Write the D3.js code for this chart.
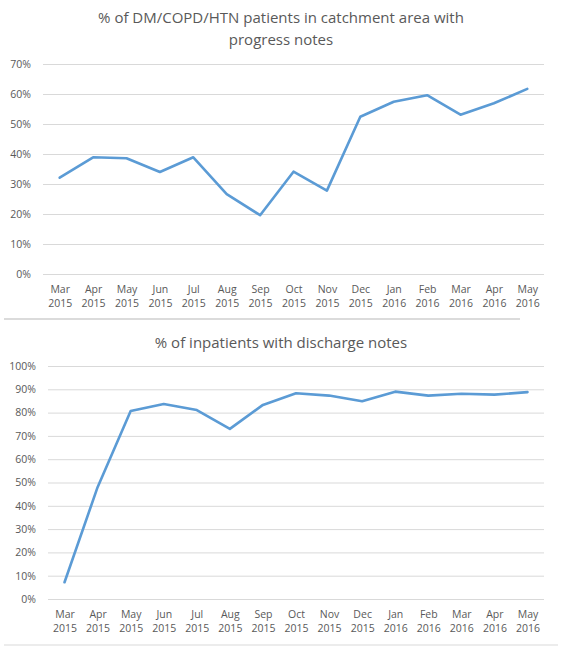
<!DOCTYPE html>
<html><head><meta charset="utf-8">
<script src="https://cdn.jsdelivr.net/npm/d3@7"></script>
<style>body{margin:0;background:#fff}svg{display:block}text{font-family:"Open Sans","Liberation Sans",sans-serif;fill:#595959}</style>
</head><body><svg id="c" width="562" height="650"></svg>
<script>
const months = ["Mar 2015","Apr 2015","May 2015","Jun 2015","Jul 2015","Aug 2015","Sep 2015","Oct 2015","Nov 2015","Dec 2015","Jan 2016","Feb 2016","Mar 2016","Apr 2016","May 2016"];
const progressNotes = [32.1,38.9,38.6,34.0,38.9,26.6,19.6,34.1,27.8,52.4,57.4,59.6,53.1,56.9,61.7];
const dischargeNotes = [7.2,48,80.7,83.7,81.1,73.0,83.3,88.3,87.3,84.9,89.0,87.3,88.1,87.7,88.8];
const ticksTop = [0,10,20,30,40,50,60,70];
const ticksBottom = [0,10,20,30,40,50,60,70,80,90,100];
const titleTop = ["% of DM/COPD/HTN patients in catchment area with","progress notes"];
const titleBottom = ["% of inpatients with discharge notes"];

const svg = d3.select("#c");

function chart(cfg){
  const g = svg.append("g");
  const x = d3.scalePoint().domain(months).range([cfg.x0, cfg.x1]).padding(0.5);
  const y = d3.scaleLinear().domain([0, cfg.max]).range([cfg.y0, cfg.y1]);
  cfg.title.forEach((t,i)=>{
    g.append("text").attr("x",281).attr("y",cfg.ty + i*22).attr("text-anchor","middle")
     .style("font-size","15px").text(t);
  });
  const ya = d3.axisLeft(y).tickValues(cfg.ticks).tickSize(-(cfg.x1-cfg.x0)).tickFormat(d=>d+"%");
  const ga = g.append("g").attr("transform",`translate(${cfg.x0},0)`).call(ya);
  ga.select(".domain").remove();
  ga.selectAll("line").attr("stroke","#d9d9d9");
  ga.selectAll("text").attr("x",-12).style("font-size","10.5px").style("fill","#595959");
  const xa = d3.axisBottom(x).tickSize(0).tickFormat("");
  const gx = g.append("g").attr("transform",`translate(0,${cfg.y0})`).call(xa);
  gx.select(".domain").remove();
  gx.selectAll(".tick").each(function(d){
    const parts = d.split(" ");
    const t = d3.select(this).append("text").attr("text-anchor","middle").style("font-size","10.5px").style("fill","#595959");
    t.append("tspan").attr("x",0).attr("y",19).text(parts[0]);
    t.append("tspan").attr("x",0).attr("y",33).text(parts[1]);
  });
  const line = d3.line().x((d,i)=>x(months[i])).y(d=>y(d));
  g.append("path").datum(cfg.values).attr("d",line).attr("fill","none")
   .attr("stroke","#5B9BD5").attr("stroke-width",2.6).attr("stroke-linejoin","round").attr("stroke-linecap","round");
}

chart({x0:43,x1:544,y0:274,y1:64,max:70,ticks:ticksTop,values:progressNotes,title:titleTop,ty:23});
chart({x0:48,x1:544,y0:599,y1:366,max:100,ticks:ticksBottom,values:dischargeNotes,title:titleBottom,ty:348});

svg.append("line").attr("x1",4).attr("x2",520).attr("y1",319).attr("y2",319).attr("stroke","#cfcfcf").attr("stroke-width",1.5);
svg.append("line").attr("x1",4).attr("x2",558).attr("y1",645).attr("y2",645).attr("stroke","#d9d9d9").attr("stroke-width",1);
</script></body></html>
